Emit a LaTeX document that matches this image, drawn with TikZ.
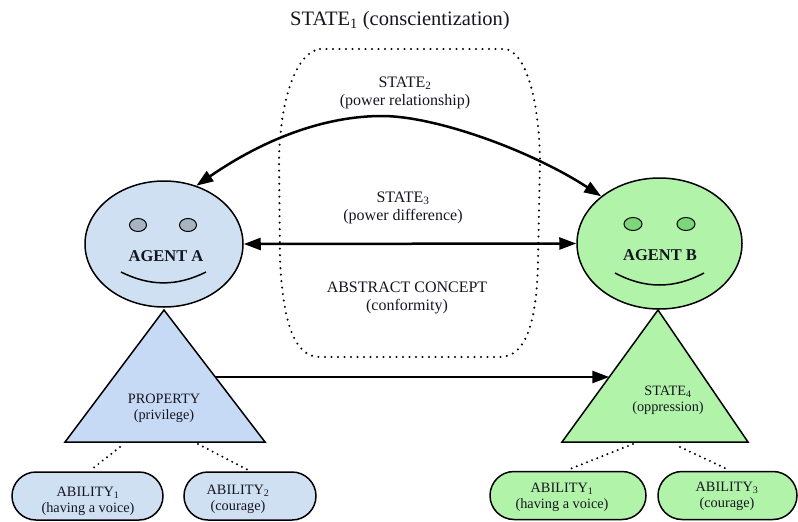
\documentclass[tikz,border=0pt]{standalone}
\usepackage{fontspec}
\setmainfont{Liberation Serif}
\usetikzlibrary{shapes.geometric,arrows.meta,calc}
\definecolor{blueFill}{HTML}{CFE0F2}
\definecolor{triBlue}{HTML}{C6D9F5}
\definecolor{eyeA}{HTML}{A8B3C1}
\definecolor{greenFill}{HTML}{B1F3A9}
\definecolor{eyeB}{HTML}{7DD67A}
\definecolor{ink}{HTML}{151520}
\begin{document}
\begin{tikzpicture}[x=1pt,y=-1pt,
 agent/.style={ellipse,draw=black,line width=1.5pt,inner sep=0pt},
 eye/.style={ellipse,draw=black,line width=1pt,minimum width=17pt,minimum height=13pt,inner sep=0pt},
 tri/.style={draw=black,line width=1.5pt,line join=miter},
 pill/.style={draw=black,line width=1.5pt,rounded corners=24pt,minimum height=48pt,inner sep=0pt},
 tip/.tip={Triangle[length=17pt,width=12pt]},
 conn/.style={line width=2.5pt,-tip},
 dconn/.style={line width=2.5pt,tip-tip},
 regiondots/.style={line width=2.3pt,line cap=round,dash pattern=on 0pt off 6.5pt},
 smalldots/.style={line width=2.2pt,line cap=round,dash pattern=on 0pt off 5.5pt},
 txt/.style={align=center,inner sep=0pt,text=ink,font=\fontsize{16}{18.5}\selectfont},
 stxt/.style={align=center,inner sep=0pt,text=ink,font=\fontsize{14.3}{16}\selectfont},
 agtxt/.style={inner sep=0pt,anchor=base,text=ink,font=\fontsize{16.5}{19}\selectfont\bfseries},
 smile/.style={line width=1.5pt},
]
\useasboundingbox (0,0) rectangle (798,522);

% title
\node[anchor=base,inner sep=0pt,text=ink,font=\fontsize{20.5}{24}\selectfont] (title) at (400,25) {STATE\textsubscript{1} (conscientization)};

% dotted region
\draw[regiondots] (320,49) -- (505,49) .. controls (526,52) and (539,100) .. (540,160)
  -- (538,260) .. controls (537,322) and (526,357) .. (500,357) -- (320,357)
  .. controls (294,357) and (283,322) .. (280,260) -- (279,160)
  .. controls (280,100) and (296,52) .. (320,49) -- cycle;

% agents
\node[agent,fill=blueFill,minimum width=158pt,minimum height=126pt] (agentA) at (164,244) {};
\node[agent,fill=greenFill,minimum width=165pt,minimum height=131pt] (agentB) at (659.5,243.5) {};
\node[eye,fill=eyeA] (eyeA1) at (138,225) {};
\node[eye,fill=eyeA] (eyeA2) at (188,225) {};
\node[eye,fill=eyeB,minimum width=18pt] (eyeB1) at (633,224) {};
\node[eye,fill=eyeB,minimum width=18pt] (eyeB2) at (686,224) {};
\node[agtxt] (labA) at (166,261.5) {AGENT A};
\node[agtxt] (labB) at (660,260.5) {AGENT B};
\draw[smile] (121,272) .. controls (150,286.5) and (177,286.5) .. (206,272);
\draw[smile] (615,273) .. controls (645,289) and (674,289) .. (704,273);

% triangles
\coordinate (aA) at (164,310);
\coordinate (lA) at (65,442);
\coordinate (rA) at (265,442);
\coordinate (aB) at (658,310);
\coordinate (lB) at (562,442);
\coordinate (rB) at (748,442);
\draw[tri,fill=triBlue] (aA) -- (lA) -- (rA) -- cycle;
\draw[tri,fill=greenFill] (aB) -- (lB) -- (rB) -- cycle;
\node[stxt] (propA) at (164,408) {PROPERTY\\(privilege)};
\node[stxt] (stateB) at (668,400) {STATE\textsubscript{4}\\(oppression)};

% middle texts
\node[txt] (s2) at (405,93) {STATE\textsubscript{2}\\(power relationship)};
\node[txt] (s3) at (403,208) {STATE\textsubscript{3}\\(power difference)};
\node[txt] (abs) at (407,298) {ABSTRACT CONCEPT\\(conformity)};

% connectors
\coordinate (peak) at (382,116);
\draw[dconn] (agentA.61) .. controls (270,135) and (330,116) .. (peak)
  .. controls (435,116) and (530,150) .. (agentB.141);
\draw[dconn] (agentA.east) -- (agentB.west);
\coordinate (tA) at ($(aA)!0.5076!(rA)$);
\coordinate (tB) at ($(aB)!0.5076!(lB)$);
\draw[conn] (tA) -- (tB);

% pills
\node[pill,fill=blueFill,minimum width=151pt] (pA1) at (87.5,496) {};
\node[pill,fill=blueFill,minimum width=132pt] (pA2) at (250,496) {};
\node[pill,fill=greenFill,minimum width=156pt] (pB1) at (568,495.5) {};
\node[pill,fill=greenFill,minimum width=139pt] (pB3) at (727.5,495.5) {};
\node[stxt] (tA1) at (88,501.5) {ABILITY\textsubscript{1}\\(having a voice)};
\node[stxt] (tA2) at (238,499.5) {ABILITY\textsubscript{2}\\(courage)};
\node[stxt] (tB1) at (562,497.5) {ABILITY\textsubscript{1}\\(having a voice)};
\node[stxt] (tB3) at (727,496.5) {ABILITY\textsubscript{3}\\(courage)};

% dotted links
\coordinate (dA1s) at (120,447); \coordinate (dA1e) at (92,469);
\coordinate (dA2s) at (198,444); \coordinate (dA2e) at (248,470);
\coordinate (dB1s) at (633,444); \coordinate (dB1e) at (570,469);
\coordinate (dB3s) at (680,447); \coordinate (dB3e) at (727,469);
\draw[smalldots] (dA1s) -- (dA1e);
\draw[smalldots] (dA2s) -- (dA2e);
\draw[smalldots] (dB1s) -- (dB1e);
\draw[smalldots] (dB3s) -- (dB3e);
\end{tikzpicture}
\end{document}
